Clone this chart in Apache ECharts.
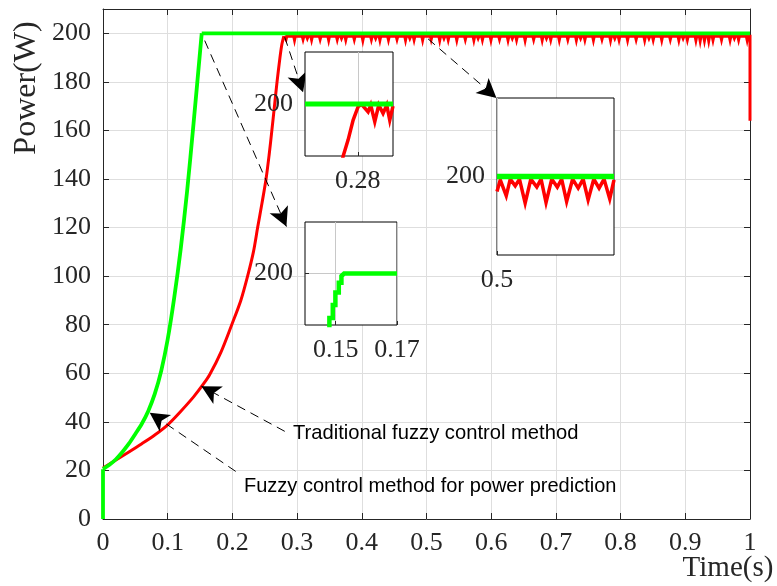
<!DOCTYPE html>
<html><head><meta charset="utf-8">
<script src="https://cdn.jsdelivr.net/npm/echarts@6/dist/echarts.min.js"></script>
<style>html,body{margin:0;padding:0;background:#fff}#c{width:777px;height:586px}</style>
</head><body><div id="c"></div>
<script>
// ---- tick labels ----
const xTicks = [0, 0.1, 0.2, 0.3, 0.4, 0.5, 0.6, 0.7, 0.8, 0.9, 1];
const yTicks = [0, 20, 40, 60, 80, 100, 120, 140, 160, 180, 200];
const inset1XTicks = [0.28];
const inset2XTicks = [0.15, 0.17];
const inset3XTicks = [0.5];
const insetYTicks = [200];

// ---- main series: fuzzy control method for power prediction (green) ----
const greenStepT = [0, 0];
const greenStepP = [0, 20.5];
const greenRiseT = [0, 0.01, 0.02, 0.03, 0.04, 0.05, 0.06, 0.07, 0.08, 0.09, 0.10, 0.11, 0.12, 0.13, 0.14, 0.1526];
const greenRiseP = [20.5, 22.3, 24.6, 27.6, 31, 35, 39.2, 44.5, 51.5, 61, 74, 91, 111, 135, 163, 200];
const greenFlatT = [0.1526, 1.0];
const greenFlatP = [200, 200];

// ---- main series: traditional fuzzy control method (red) ----
const redRiseT = [0, 0.02, 0.04, 0.06, 0.08, 0.10, 0.12, 0.14, 0.155, 0.165, 0.182, 0.199, 0.213, 0.2235, 0.2325, 0.239, 0.2457, 0.252, 0.2568, 0.261, 0.265, 0.269, 0.2735, 0.2765, 0.2795];
const redRiseP = [21, 24.3, 27.6, 31, 34.6, 38.8, 44.3, 50.3, 55.5, 59.5, 68.5, 80, 90, 100, 110, 120, 130, 140, 150, 160, 170, 180, 190, 195.5, 198.8];
const rippleStart = 0.2795;
const ripplePeriod = 0.0066;
const rippleHalfWidth = 0.0013;
const ripplePeak = 198.8;
const rippleDips = [
  197.4,198.1,197.2,198.2,197.5,197.9,197.3,198.0,197.5,198.2,
  197.2,198.1,197.4,197.9,197.3,198.2,197.4,198.0,197.1,198.1,
  197.4,197.9,197.2,198.2,197.3,198.0,197.5,198.1,197.2,197.9,
  197.3,198.2,197.2,198.0,197.4,198.1,197.1,197.9,197.3,198.2,
  197.2,198.0,197.4,198.1,197.2,197.9,197.3,198.2,197.2,198.0,
  197.5,198.1,197.2,197.9,197.3,198.2,197.1,198.0,197.4,198.1,
  197.2,197.9,197.3,198.2,197.2,198.0,197.4,198.1,197.2,197.9,
  197.3,198.2,197.2,198.0,197.5,198.1,197.1,197.9,197.3,198.2,
  197.2,198.0,197.4,198.1,197.2,197.9,197.3,198.2,197.2,198.0,
  197.4,198.1,197.2,197.9,197.3,198.2,197.1,196.9,197.0,196.9,
  197.2,198.0,197.3,198.1,197.2,197.9,197.3,198.0,197.2
];
const redEndT = 1.0;
const redEndP = 164;

// ---- inset 1 (around 0.28) ----
const in1GreenT = [0.274, 0.284];
const in1GreenP = [200, 200];
const in1RedT = [0.2781, 0.27834, 0.2789, 0.27947, 0.28004, 0.28045, 0.28117, 0.28147, 0.28193, 0.28238, 0.28287, 0.28329, 0.28363, 0.284];
const in1RedP = [188, 190, 193.1, 196.9, 199.5, 199.9, 198.5, 199.8, 196.6, 199.8, 198.2, 199.8, 196.9, 199.6];

// ---- inset 2 (0.15 - 0.17) ----
const in2GreenT = [0.14795, 0.14795, 0.14906, 0.14906, 0.14991, 0.14991, 0.15102, 0.15102, 0.15188, 0.15188, 0.15276, 0.17];
const in2GreenP = [188, 191.35, 191.35, 193.9, 193.9, 196.3, 196.3, 198.2, 198.2, 199.5, 200, 200];

// ---- inset 3 (from 0.5) ----
const in3GreenT = [0.5, 0.56];
const in3GreenP = [200, 200];
const in3RedT = [0.5, 0.50168, 0.50474, 0.50679, 0.50934, 0.51153, 0.51444, 0.51735, 0.52041, 0.5226, 0.52515, 0.52806, 0.53092, 0.53316, 0.53571, 0.53878, 0.54163, 0.54418, 0.54673, 0.54964, 0.55235, 0.5549, 0.55781, 0.56];
const in3RedP = [198.08, 199.58, 197.54, 199.67, 198.81, 199.67, 196.6, 199.67, 198.65, 199.67, 196.68, 199.67, 198.65, 199.67, 196.81, 199.67, 198.52, 199.67, 197.02, 199.67, 198.52, 199.67, 197.15, 199.58];

// ---- annotation arrows [t0, P0, t1, P1] (tail -> head, data units) ----
const arrowLines = [
  [0.1572, 197.0, 0.2835, 120.4],
  [0.2809, 198.4, 0.3092, 175.7],
  [0.5024, 197.7, 0.6081, 173.4],
  [0.2809, 36.1, 0.1521, 54.7],
  [0.2051, 19.6, 0.0722, 43.8]
];

const zip = (a, b) => a.map((v, i) => [v, b[i]]);
const rippleData = [[rippleStart, ripplePeak]];
rippleDips.forEach((d, i) => {
  const c = rippleStart + i * ripplePeriod + ripplePeriod / 2;
  if (c + rippleHalfWidth > redEndT) return;
  rippleData.push([c - rippleHalfWidth, ripplePeak]);
  rippleData.push([c, d]);
  rippleData.push([c + rippleHalfWidth, ripplePeak]);
});
rippleData.push([redEndT, ripplePeak]);
rippleData.push([redEndT, redEndP]);

const SERIF = '"Liberation Serif","Times New Roman",serif';
const SANS = '"Liberation Sans",Arial,sans-serif';
const AX = '#262626';
const GRIDC = '#dedede';

function mainX(pos, labels) {
  return {
    gridIndex: 0, type: 'value', position: pos, min: 0, max: 1,
    axisLine: { show: true, onZero: false, lineStyle: { color: AX, width: 1 } },
    axisTick: { show: true, inside: true, length: 6, customValues: xTicks, lineStyle: { color: AX } },
    axisLabel: { show: labels, customValues: xTicks, fontFamily: SERIF, fontSize: 26, color: AX, margin: 11,
      formatter: v => String(+v.toFixed(2)) },
    splitLine: { show: labels, lineStyle: { color: GRIDC, width: 1 } }
  };
}
function mainY(pos, labels) {
  return {
    gridIndex: 0, type: 'value', position: pos, min: 0, max: 210,
    axisLine: { show: true, onZero: false, lineStyle: { color: AX, width: 1 } },
    axisTick: { show: true, inside: true, length: 6, customValues: yTicks, lineStyle: { color: AX } },
    axisLabel: { show: labels, customValues: yTicks, fontFamily: SERIF, fontSize: 26, color: AX, margin: 12 },
    splitLine: { show: labels, lineStyle: { color: GRIDC, width: 1 } }
  };
}
function insetX(g, min, max, ticks) {
  return {
    gridIndex: g, type: 'value', min: min, max: max, z: 11,
    axisLine: { show: false },
    axisTick: { show: true, inside: true, length: 4, customValues: ticks, lineStyle: { color: AX } },
    axisLabel: { show: true, customValues: ticks, fontFamily: SERIF, fontSize: 26, color: AX, margin: 12,
      formatter: v => String(+v.toFixed(3)) },
    splitLine: { show: true, lineStyle: { color: '#c8c8c8', width: 1 } }
  };
}
function insetY(g, min, max) {
  return {
    gridIndex: g, type: 'value', min: min, max: max, z: 11,
    axisLine: { show: false },
    axisTick: { show: true, inside: true, length: 4, customValues: insetYTicks, lineStyle: { color: AX } },
    axisLabel: { show: true, customValues: insetYTicks, fontFamily: SERIF, fontSize: 26, color: AX, margin: 12 },
    splitLine: { show: true, lineStyle: { color: '#c8c8c8', width: 1 } }
  };
}
function line(xi, yi, data, color, width, z, smooth) {
  return {
    type: 'line', xAxisIndex: xi, yAxisIndex: yi, data: data, z: z,
    symbol: 'none', showSymbol: false, clip: true, silent: true,
    smooth: smooth ? 0.3 : false,
    lineStyle: { color: color, width: width, join: 'miter', cap: 'butt' }
  };
}

const chart = echarts.init(document.getElementById('c'), null, { renderer: 'canvas' });
const greenFlat = line(0, 0, zip(greenFlatT, greenFlatP), '#00ff00', 3.8, 3, false);
greenFlat.markLine = {
  silent: true, animation: false, symbol: ['none', 'arrow'], symbolSize: [15, 19],
  lineStyle: { color: '#000', width: 1, type: [9, 6] },
  label: { show: false }, emphasis: { disabled: true },
  data: arrowLines.map(a => [{ coord: [a[0], a[1]] }, { coord: [a[2], a[3]] }])
};

chart.setOption({
  animation: false,
  backgroundColor: '#fff',
  grid: [
    { left: 103, right: 27, top: 9, bottom: 67, show: false },
    { left: 305, top: 52, width: 88, height: 104, show: true, backgroundColor: '#fff', borderColor: '#000', borderWidth: 1, z: 10 },
    { left: 305, top: 222, width: 92, height: 103, show: true, backgroundColor: '#fff', borderColor: '#000', borderWidth: 1, z: 10 },
    { left: 497, top: 98, width: 117, height: 157, show: true, backgroundColor: '#fff', borderColor: '#000', borderWidth: 1, z: 10 }
  ],
  xAxis: [
    mainX('bottom', true), mainX('top', false),
    insetX(1, 0.274, 0.284, inset1XTicks),
    insetX(2, 0.14, 0.17, inset2XTicks),
    insetX(3, 0.5, 0.56, inset3XTicks)
  ],
  yAxis: [
    mainY('left', true), mainY('right', false),
    insetY(1, 190, 210), insetY(2, 190, 210), insetY(3, 190, 210)
  ],
  series: [
    line(0, 0, zip(redRiseT, redRiseP), '#ff0000', 3, 2, true),
    line(0, 0, rippleData, '#ff0000', 3, 2, false),
    line(0, 0, zip(greenStepT, greenStepP), '#00ff00', 3.8, 3, false),
    line(0, 0, zip(greenRiseT, greenRiseP), '#00ff00', 3.8, 3, true),
    greenFlat,
    line(2, 2, zip(in1RedT, in1RedP), '#ff0000', 3.5, 12, false),
    line(2, 2, zip(in1GreenT, in1GreenP), '#00ff00', 5, 13, false),
    line(3, 3, zip(in2GreenT, in2GreenP), '#00ff00', 4.5, 13, false),
    line(4, 4, zip(in3RedT, in3RedP), '#ff0000', 3.5, 12, false),
    line(4, 4, zip(in3GreenT, in3GreenP), '#00ff00', 5.5, 13, false)
  ],
  graphic: [
    { type: 'text', x: 27, y: 88, rotation: Math.PI / 2, z: 20,
      style: { text: 'Power(W)', font: '32px ' + SERIF, fill: AX, align: 'center', verticalAlign: 'middle' } },
    { type: 'text', x: 728, y: 568, z: 20,
      style: { text: 'Time(s)', font: '29px ' + SERIF, fill: AX, align: 'center', verticalAlign: 'middle' } },
    { type: 'text', x: 293, y: 433, z: 20,
      style: { text: 'Traditional fuzzy control method', font: '20.2px ' + SANS, fill: '#000', align: 'left', verticalAlign: 'middle' } },
    { type: 'text', x: 244, y: 486, z: 20,
      style: { text: 'Fuzzy control method for power prediction', font: '20px ' + SANS, fill: '#000', align: 'left', verticalAlign: 'middle' } }
  ]
});
</script></body></html>
